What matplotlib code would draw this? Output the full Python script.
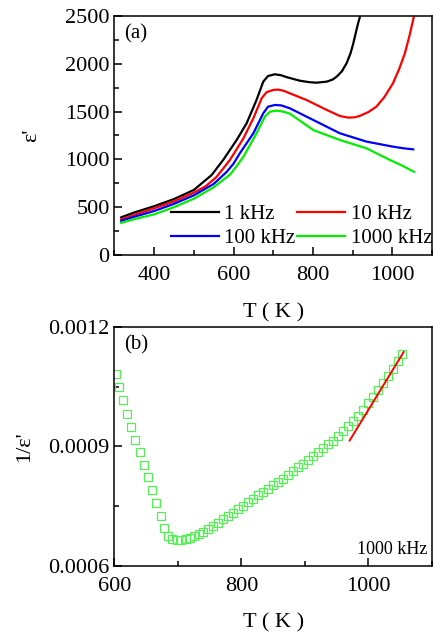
import numpy as np
import matplotlib.pyplot as plt
from matplotlib.ticker import MultipleLocator

plt.rcParams['font.family'] = ['Liberation Serif', 'DejaVu Serif']

# (a) real permittivity vs temperature
T1 = [317, 350, 400, 450, 500, 545, 574, 608, 633, 658, 675, 687, 704, 720, 734, 767, 790, 809,
      835, 850, 860, 873, 885, 895, 902, 908, 914, 920]
eps1 = [394, 445, 510, 585, 680, 837, 994, 1203, 1377, 1621, 1813, 1872, 1890, 1880, 1860, 1823,
        1808, 1802, 1813, 1835, 1865, 1920, 2005, 2110, 2214, 2320, 2423, 2510]

T10 = [317, 350, 400, 450, 500, 530, 557, 591, 625, 650, 671, 683, 700, 712, 725, 742, 784, 835,
       868, 889, 905, 918, 940, 960, 980, 1002, 1018, 1032, 1044, 1055]
eps10 = [372, 420, 488, 560, 652, 720, 815, 994, 1220, 1430, 1639, 1702, 1726, 1730, 1719, 1691,
         1621, 1517, 1454, 1437, 1440, 1454, 1495, 1551, 1650, 1796, 1950, 2110, 2300, 2500]

T100 = [317, 350, 400, 450, 500, 550, 583, 600, 616, 650, 675, 687, 704, 720, 742, 801, 868, 935,
        1002, 1030, 1053]
eps100 = [358, 400, 460, 535, 624, 743, 870, 955, 1064, 1273, 1482, 1551, 1569, 1565, 1534, 1412,
          1273, 1186, 1133, 1115, 1105]

T1000 = [317, 350, 400, 450, 500, 550, 591, 608, 625, 658, 679, 692, 709, 725, 742, 801, 868,
         935, 994, 1025, 1055]
eps1000 = [336, 375, 425, 500, 589, 708, 840, 930, 1028, 1273, 1447, 1499, 1510, 1500, 1478,
           1307, 1203, 1116, 994, 935, 870]

# (b) inverse permittivity at 1000 kHz
Tb = [602.6, 607.9, 613.6, 619.4, 626.2, 633.0, 639.8, 646.6, 653.5, 659.2, 666.0, 673.4, 678.6,
      684.9, 691.2, 698.0, 704.8, 712.0, 719.0, 725.8, 733.0, 740.0, 747.8, 755.7, 763.5, 771.4,
      779.2, 787.1, 795.0, 802.8, 810.7, 818.6, 826.4, 834.3, 842.1, 850.0, 857.9, 865.7, 873.6,
      881.4, 889.3, 897.2, 905.0, 912.9, 920.8, 928.6, 936.5, 944.3, 952.2, 960.0, 967.9, 975.8,
      983.6, 991.5, 999.4, 1007.2, 1015.1, 1023.0, 1030.8, 1038.7, 1046.5, 1052.8]
inv_eps = [1.081, 1.049, 1.016, 0.982, 0.949, 0.917, 0.885, 0.854, 0.823, 0.790, 0.757, 0.726, 0.696,
           0.676, 0.669, 0.666, 0.666, 0.669, 0.671, 0.675, 0.681, 0.686, 0.693, 0.700, 0.709, 0.717,
           0.726, 0.734, 0.742, 0.751, 0.760, 0.768, 0.777, 0.786, 0.793, 0.803, 0.811, 0.819, 0.829,
           0.838, 0.849, 0.857, 0.865, 0.875, 0.885, 0.895, 0.905, 0.915, 0.927, 0.939, 0.951, 0.964,
           0.977, 0.992, 1.008, 1.024, 1.041, 1.059, 1.076, 1.095, 1.114, 1.133]
inv_eps = np.array(inv_eps) * 1e-3

fit_T = [970.5, 1055.5]
fit_v = [0.000915, 0.001137]

fig = plt.figure(figsize=(4.33, 6.41), dpi=100)
axa = fig.add_axes([0.2644, 0.6022, 0.733, 0.3729])
axb = fig.add_axes([0.2644, 0.1170, 0.733, 0.3729])

lw = 1.6
l1, = axa.plot(T1, eps1, color='black', lw=lw, label='1 kHz')
l10, = axa.plot(T10, eps10, color='red', lw=lw, label='10 kHz')
l100, = axa.plot(T100, eps100, color='blue', lw=lw, label='100 kHz')
l1000, = axa.plot(T1000, eps1000, color='#00ee00', lw=lw, label='1000 kHz')
axa.set_xlim(300, 1100)
axa.set_ylim(0, 2500)
axa.xaxis.set_major_locator(MultipleLocator(200))
axa.xaxis.set_minor_locator(MultipleLocator(100))
axa.yaxis.set_major_locator(MultipleLocator(500))
axa.yaxis.set_minor_locator(MultipleLocator(250))
axa.set_xlabel('T ( K )', fontsize=16, labelpad=13)
axa.set_ylabel("ε'", fontsize=16, labelpad=17)
axa.text(0.03, 0.965, '(a)', transform=axa.transAxes, fontsize=15, va='top', ha='left')
# row order: 1 kHz, 10 kHz / 100 kHz, 1000 kHz
axa.legend([l1, l100, l10, l1000], ['1 kHz', '100 kHz', '10 kHz', '1000 kHz'],
           ncol=2, loc='lower left', bbox_to_anchor=(0.178, 0.03), frameon=False,
           fontsize=15, handlelength=2.3, handletextpad=0.25, columnspacing=0.1,
           labelspacing=0.2, borderpad=0, borderaxespad=0)

axb.plot(Tb, inv_eps, ls='none', marker='s', ms=5.8, mfc='none', mec='#55ee55', mew=0.9)
axb.plot(fit_T, fit_v, color='red', lw=1.4)
axb.set_xlim(600, 1100)
axb.set_ylim(0.0006, 0.0012)
axb.xaxis.set_major_locator(MultipleLocator(200))
axb.xaxis.set_minor_locator(MultipleLocator(100))
axb.yaxis.set_major_locator(MultipleLocator(0.0003))
axb.yaxis.set_minor_locator(MultipleLocator(0.00015))
axb.yaxis.set_major_formatter(plt.FuncFormatter(lambda v, p: '%.4f' % v))
axb.set_xlabel('T ( K )', fontsize=16, labelpad=12)
axb.set_ylabel("1/ε'", fontsize=16, labelpad=10)
axb.text(0.03, 0.965, '(b)', transform=axb.transAxes, fontsize=15, va='top', ha='left')
axb.text(0.985, 0.07, '1000 kHz', transform=axb.transAxes, fontsize=13, ha='right', va='center')

for ax in (axa, axb):
    for s in ax.spines.values():
        s.set_linewidth(1.1)
    ax.tick_params(which='both', direction='in', top=False, right=False, labelsize=16, width=1.1)
    ax.tick_params(which='major', length=6)
    ax.tick_params(which='minor', length=3.5)
    ax.tick_params(axis='x', pad=8)

fig.savefig('out.png', dpi=100)
